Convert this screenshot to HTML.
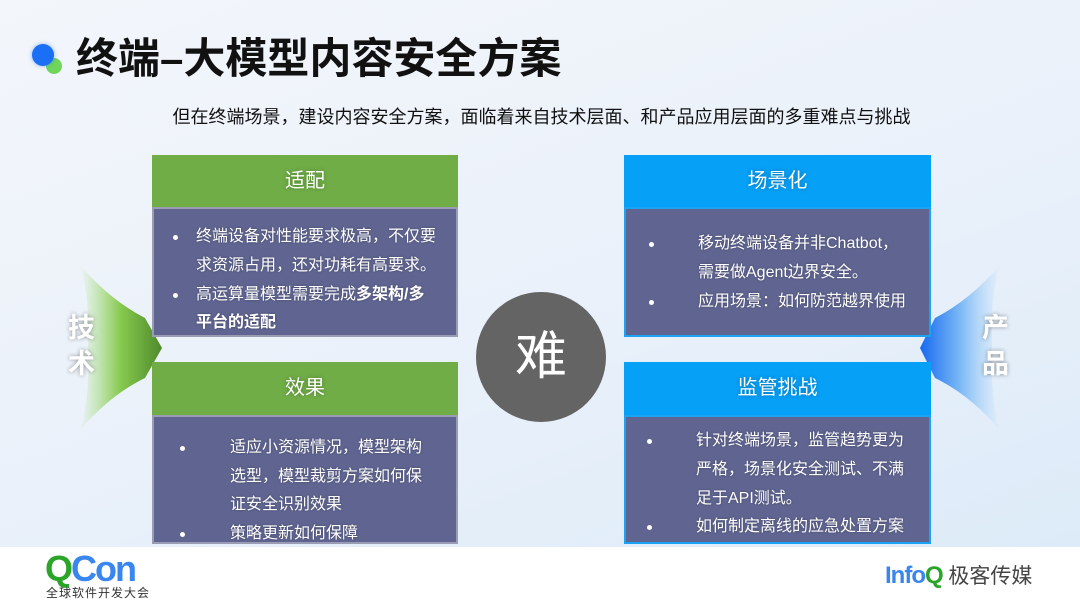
<!DOCTYPE html>
<html><head><meta charset="utf-8"><style>
*{margin:0;padding:0;box-sizing:border-box}
body{width:1080px;height:607px;position:relative;overflow:hidden;font-family:"Liberation Sans","Noto Sans CJK SC",sans-serif;background:linear-gradient(160deg,#f3f6fb 0%,#eaf1fa 50%,#dbeaf8 100%)}
.abs{position:absolute}
.hd{position:absolute;color:#fff;font-size:20px;text-align:center;line-height:52px;text-shadow:0 0 4px rgba(0,0,0,.3)}
.bd{position:absolute;background:#5f6490;border:2px solid #9a9cb4;color:#fff;font-size:16px}
.ln{position:absolute;white-space:nowrap;line-height:20px;text-shadow:0 0 2px rgba(0,0,0,.3)}
.dot{position:absolute;width:5px;height:5px;border-radius:50%;background:#fff}
</style></head><body>
<div class="abs" style="left:32px;top:44px;width:22px;height:22px;border-radius:50%;background:#1a6ff5;z-index:2;box-shadow:0 0 4px rgba(26,111,245,.5)"></div>
<div class="abs" style="left:46px;top:58px;width:16px;height:16px;border-radius:50%;background:#6fd65a"></div>
<div class="abs" style="left:76px;top:34px;font-size:42px;font-weight:bold;color:#111;line-height:50px">终端–大模型内容安全方案</div>
<div class="abs" style="left:0;width:1080px;top:106px;text-align:center;font-size:18px;color:#111;line-height:22px;padding-left:3px">但在终端场景，建设内容安全方案，面临着来自技术层面、和产品应用层面的多重难点与挑战</div>

<svg class="abs" style="left:0;top:0" width="1080" height="607">
<defs>
<linearGradient id="g" x1="0" x2="1"><stop offset="0" stop-color="#9bdc6a" stop-opacity="0"/><stop offset=".5" stop-color="#86c94e"/><stop offset="1" stop-color="#4f8a2c"/></linearGradient>
<linearGradient id="b" x1="1" x2="0"><stop offset="0" stop-color="#9fd0fa" stop-opacity="0"/><stop offset=".5" stop-color="#7ab8f5"/><stop offset="1" stop-color="#1769f0"/></linearGradient>
</defs>
<path d="M80 265 Q110 300 145 318 L145 318 L162 348 L145 378 Q110 395 80 430 Q90 400 88 348 Q90 295 80 265Z" fill="url(#g)"/>
<path d="M1000 265 Q970 300 935 318 L920 348 L935 378 Q970 395 1000 430 Q990 400 992 348 Q990 295 1000 265Z" fill="url(#b)"/>
</svg>
<div class="abs" style="left:68px;top:310px;color:#fff;font-size:27px;font-weight:bold;line-height:36px;text-shadow:0 0 4px rgba(0,0,0,.4)">技<br>术</div>
<div class="abs" style="left:982px;top:310px;color:#fff;font-size:27px;font-weight:bold;line-height:36px;text-shadow:0 0 4px rgba(0,0,0,.4)">产<br>品</div>

<div class="abs" style="left:476px;top:292px;width:130px;height:130px;border-radius:50%;background:#646464;color:#fff;font-size:52px;text-align:center;line-height:130px">难</div>

<div class="hd" style="left:152px;top:155px;width:306px;height:52px;background:#70ad47">适配</div>
<div class="bd" style="left:152px;top:207px;width:306px;height:130px">
<div class="dot" style="left:19px;top:26px"></div><div class="ln" style="left:42px;top:18px">终端设备对性能要求极高，不仅要</div>
<div class="ln" style="left:42px;top:47px">求资源占用，还对功耗有高要求。</div>
<div class="dot" style="left:19px;top:84px"></div><div class="ln" style="left:42px;top:76px">高运算量模型需要完成<b>多架构/多</b></div>
<div class="ln" style="left:42px;top:104px"><b>平台的适配</b></div>
</div>
<div class="hd" style="left:152px;top:362px;width:306px;height:53px;background:#70ad47">效果</div>
<div class="bd" style="left:152px;top:415px;width:306px;height:129px">
<div class="dot" style="left:26px;top:29px"></div><div class="ln" style="left:76px;top:21px">适应小资源情况，模型架构</div>
<div class="ln" style="left:76px;top:50px">选型，模型裁剪方案如何保</div>
<div class="ln" style="left:76px;top:78px">证安全识别效果</div>
<div class="dot" style="left:26px;top:115px"></div><div class="ln" style="left:76px;top:107px">策略更新如何保障</div>
</div>

<div class="hd" style="left:624px;top:155px;width:307px;height:52px;background:#06a0f7">场景化</div>
<div class="bd" style="left:624px;top:207px;width:307px;height:130px;border-color:#1aa3f5">
<div class="dot" style="left:23px;top:33px"></div><div class="ln" style="left:72px;top:25px">移动终端设备并非Chatbot，</div>
<div class="ln" style="left:72px;top:54px">需要做Agent边界安全。</div>
<div class="dot" style="left:23px;top:91px"></div><div class="ln" style="left:72px;top:83px">应用场景：如何防范越界使用</div>
</div>
<div class="hd" style="left:624px;top:362px;width:307px;height:53px;background:#06a0f7">监管挑战</div>
<div class="bd" style="left:624px;top:415px;width:307px;height:129px;border-color:#1aa3f5">
<div class="dot" style="left:21px;top:22px"></div><div class="ln" style="left:70px;top:14px">针对终端场景，监管趋势更为</div>
<div class="ln" style="left:70px;top:43px">严格，场景化安全测试、不满</div>
<div class="ln" style="left:70px;top:72px">足于API测试。</div>
<div class="dot" style="left:21px;top:108px"></div><div class="ln" style="left:70px;top:100px">如何制定离线的应急处置方案</div>
</div>

<div class="abs" style="left:0;top:547px;width:1080px;height:60px;background:#fff"></div>
<div class="abs" style="left:45px;top:552px;font-size:36px;font-weight:bold;line-height:34px;letter-spacing:-2px"><span style="color:#2aa52a">Q</span><span style="color:#3a86f0">Con</span></div>
<div class="abs" style="left:46px;top:586px;font-size:12px;color:#333;line-height:14px;letter-spacing:1px">全球软件开发大会</div>
<div class="abs" style="left:885px;top:562px;font-size:24px;font-weight:bold;line-height:28px;color:#3a86f0;letter-spacing:-1px">Info<span style="color:#2aa52a">Q</span> <span style="color:#444;font-weight:normal;font-size:21px;letter-spacing:0">极客传媒</span></div>
</body></html>
